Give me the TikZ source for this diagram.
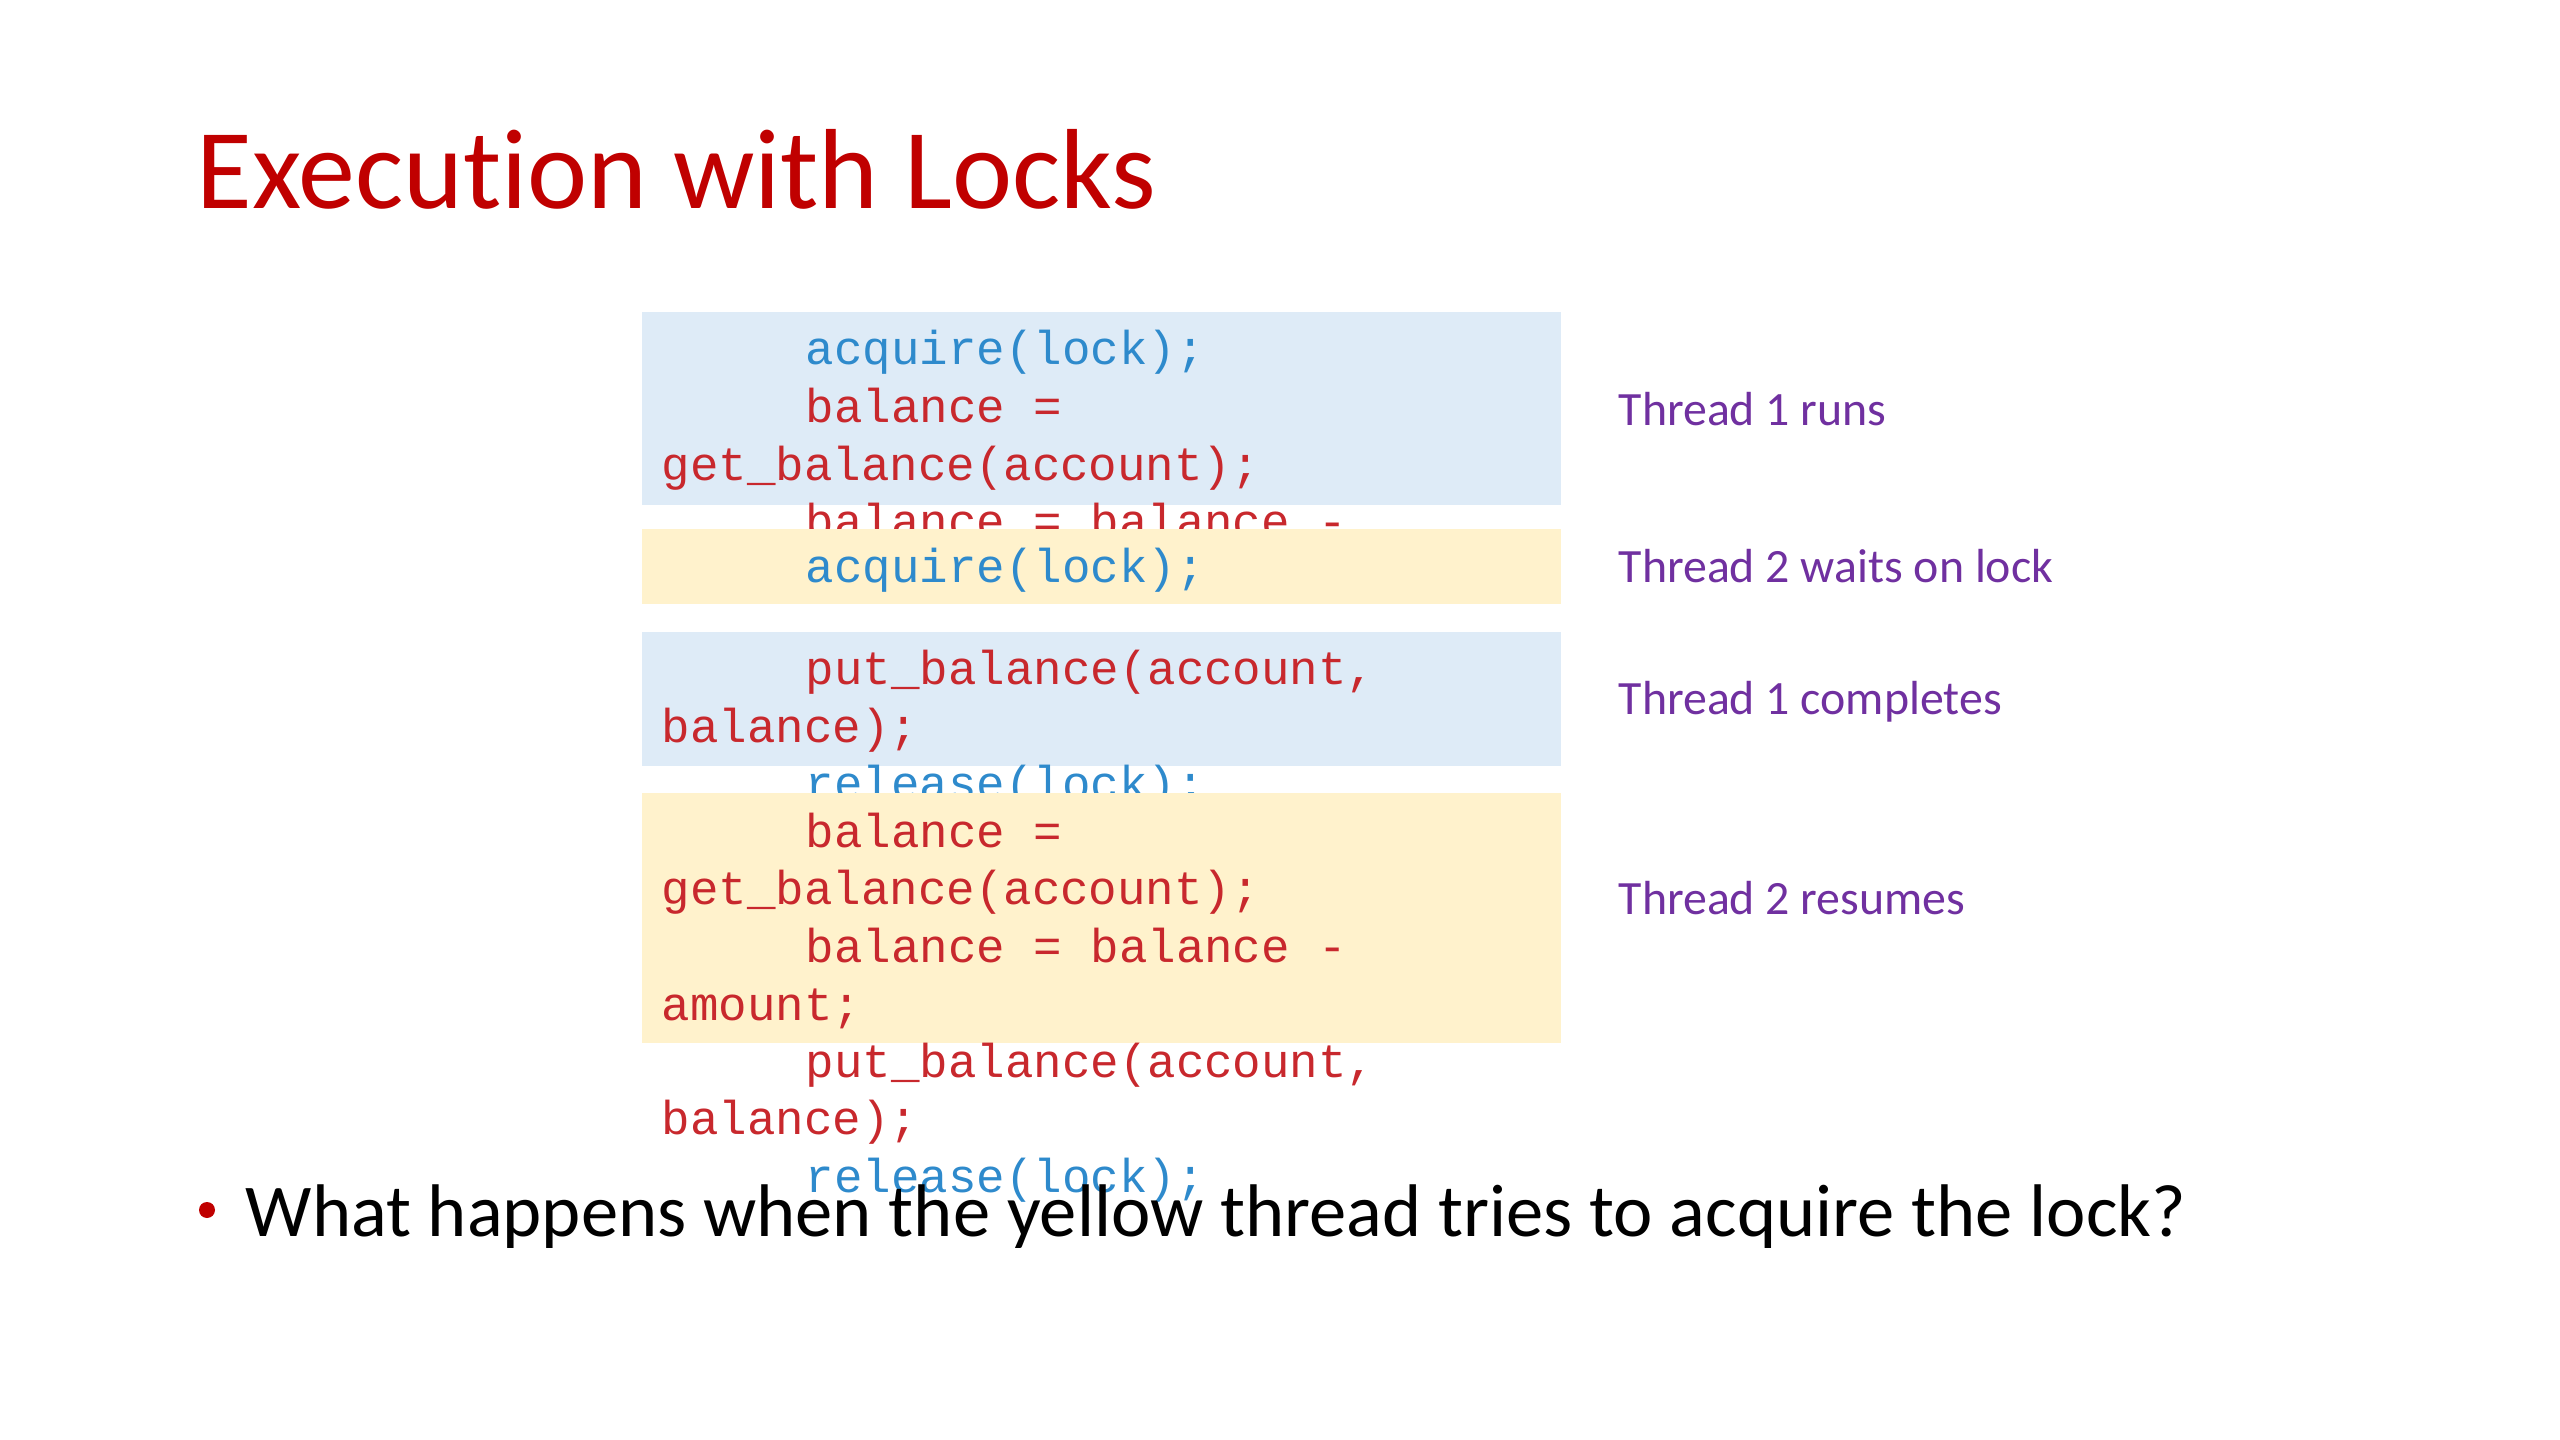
\documentclass[tikz,border=0pt]{standalone}
\usepackage{fontspec}
\setmainfont[Ligatures={NoCommon}]{Carlito}
\newfontfamily\codefont{Liberation Mono}
\definecolor{titlered}{RGB}{192,0,0}
\definecolor{codered}{RGB}{200,40,45}
\definecolor{codeblue}{RGB}{46,138,204}
\definecolor{boxblue}{HTML}{DEEBF7}
\definecolor{boxyellow}{HTML}{FFF2CC}
\definecolor{labelpurple}{HTML}{7030A0}
\tikzset{
  codeline/.style={font=\codefont\fontsize{13.5}{16}\selectfont, inner sep=0pt, anchor=base west},
  rc/.style={codeline, text=codered},
  bc/.style={codeline, text=codeblue},
  bluebox/.style={fill=boxblue, draw=none},
  yellowbox/.style={fill=boxyellow, draw=none},
  threadlabel/.style={font=\fontsize{13.6}{16}\selectfont, text=labelpurple, inner sep=0pt, anchor=base west},
}
\begin{document}
\begin{tikzpicture}[x=0.01cm,y=-0.01cm]
\useasboundingbox[fill=white] (0,0) rectangle (2560,1440);
% title
\node[font=\fontsize{32.4}{38}\selectfont, text=titlered, inner sep=0pt, anchor=base west] (title) at (196,209) {Execution with Locks};

% indent positions
\def\tabx{805}
\def\hangx{661}
\def\boff{16}

% blue box 1
\fill[bluebox] (642,312) rectangle (1561,505);
\node[bc] (b1a) at (\tabx,349+\boff) {acquire(lock);};
\node[rc] (b1b) at (\tabx,407+\boff) {balance =};
\node[rc] (b1c) at (\hangx,465+\boff) {get\_balance(account);};
\node[rc] (b1d) at (\tabx,522+\boff) {balance = balance -};
\node[rc] (b1e) at (\hangx,580+\boff) {amount;};

% yellow box 1
\fill[yellowbox] (642,529) rectangle (1561,604);
\node[bc] (y1a) at (\tabx,567+\boff) {acquire(lock);};

% blue box 2
\fill[bluebox] (642,632) rectangle (1561,766);
\node[rc] (b2a) at (\tabx,669+\boff) {put\_balance(account,};
\node[rc] (b2b) at (\hangx,727+\boff) {balance);};
\node[bc] (b2c) at (\tabx,784+\boff) {release(lock);};

% yellow box 2
\fill[yellowbox] (642,793) rectangle (1561,1043);
\node[rc] (y2a) at (\tabx,831+\boff) {balance =};
\node[rc] (y2b) at (\hangx,888+\boff) {get\_balance(account);};
\node[rc] (y2c) at (\tabx,946+\boff) {balance = balance -};
\node[rc] (y2d) at (\hangx,1004+\boff) {amount;};
\node[rc] (y2e) at (\tabx,1061+\boff) {put\_balance(account,};
\node[rc] (y2f) at (\hangx,1118+\boff) {balance);};
\node[bc] (y2g) at (\tabx,1176+\boff) {release(lock);};

% labels
\node[threadlabel] (l1) at (1618,410+16) {Thread 1 runs};
\node[threadlabel] (l2) at (1618,567+16) {Thread 2 waits on lock};
\node[threadlabel] (l3) at (1618,699+16) {Thread 1 completes};
\node[threadlabel] (l4) at (1618,898+16) {Thread 2 resumes};

% bullet
\fill[titlered] (207,1210) circle (8);
\node[font=\fontsize{21.2}{26}\selectfont, inner sep=0pt, anchor=base west] (q) at (245,1236) {What happens when the yellow thread tries to acquire the lock?};
\end{tikzpicture}
\end{document}
